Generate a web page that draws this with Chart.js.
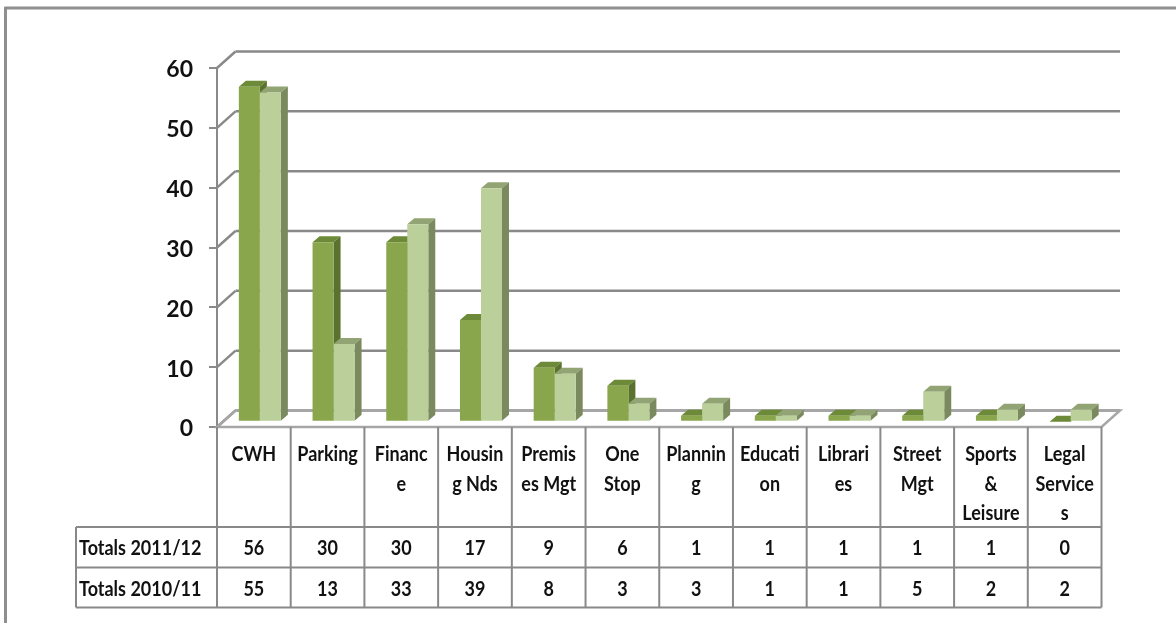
<!DOCTYPE html>
<html>
<head>
<meta charset="utf-8">
<script src="https://cdn.jsdelivr.net/npm/chart.js@4.4.1/dist/chart.umd.min.js"></script>
<style>
  body { margin: 0; background: #fff; }
  #wrap { position: relative; width: 1176px; height: 623px; overflow: hidden; }
  #chart { position: absolute; left: 0; top: 0; }
  .cell {
    position: absolute;
    font-family: Lato, "Open Sans", sans-serif;
    font-weight: bold;
    font-size: 18px;
    color: #111;
    text-align: center;
  }
  .cell span { display: block; transform: scaleY(1.18); }
</style>
</head>
<body>
<div id="wrap">
  <canvas id="chart" width="1176" height="623"></canvas>
</div>
<script>
// categories and the two yearly totals
const categories = ["CWH", "Parking", "Finance", "Housing Nds", "Premises Mgt", "One Stop",
  "Planning", "Education", "Libraries", "Street Mgt", "Sports & Leisure", "Legal Services"];
// header text as it wraps inside the table cells
const headerLines = [["CWH"], ["Parking"], ["Financ", "e"], ["Housin", "g Nds"], ["Premis", "es Mgt"],
  ["One", "Stop"], ["Plannin", "g"], ["Educati", "on"], ["Librari", "es"], ["Street", "Mgt"],
  ["Sports", "&", "Leisure"], ["Legal", "Service", "s"]];
const seriesNames = ["Totals 2011/12", "Totals 2010/11"];
const totals1112 = [56, 30, 30, 17, 9, 6, 1, 1, 1, 1, 1, 0];
const totals1011 = [55, 13, 33, 39, 8, 3, 3, 1, 1, 5, 2, 2];
const yMax = 60;
const yStep = 10;

const lineColor = "#898989";
const frontColors = ["#8aa64d", "#bbcf9a"];
const topColors = ["#6c8a37", "#92a474"];
const sideColors = ["#5a722d", "#7a8a5e"];

const wallShift = { x: 18.5, y: -16.5 };  // front plane -> back wall
const barShift = { x: 6, y: -5.3 };       // front plane -> front face of bars
const barDepth = { x: 7, y: -6 };

const tableLeft = 76;
const headerBottom = 527;
const rowBottoms = [567.5, 607.5];

function line(ctx, x1, y1, x2, y2) {
  ctx.beginPath();
  ctx.moveTo(x1, y1);
  ctx.lineTo(x2, y2);
  ctx.stroke();
}

function poly(ctx, pts, color) {
  ctx.fillStyle = color;
  ctx.beginPath();
  pts.forEach(([x, y], k) => (k ? ctx.lineTo(x, y) : ctx.moveTo(x, y)));
  ctx.closePath();
  ctx.fill();
}

const box3d = {
  id: "box3d",
  beforeDraw(chart) {
    const ctx = chart.ctx;
    ctx.save();
    ctx.strokeStyle = "#8f8f8f";
    ctx.lineWidth = 3;
    line(ctx, 4.5, 8, 1176, 8);
    line(ctx, 5.5, 7, 5.5, 623);
    ctx.restore();
  },
  beforeDatasetsDraw(chart) {
    const ctx = chart.ctx;
    const a = chart.chartArea;
    const ys = chart.scales.y;
    ctx.save();
    ctx.strokeStyle = lineColor;
    ctx.lineWidth = 2.5;
    // back wall grid and the side wall diagonals
    for (let v = 0; v <= yMax; v += yStep) {
      const y = ys.getPixelForValue(v);
      line(ctx, a.left + wallShift.x, y + wallShift.y, a.right + wallShift.x, y + wallShift.y);
      line(ctx, a.left, y, a.left + wallShift.x, y + wallShift.y);
    }
    // floor
    const y0 = ys.getPixelForValue(0);
    ctx.strokeStyle = "#a6a6a6";
    ctx.beginPath();
    ctx.moveTo(a.left, y0);
    ctx.lineTo(a.right, y0);
    ctx.lineTo(a.right + wallShift.x, y0 + wallShift.y);
    ctx.lineTo(a.left + wallShift.x, y0 + wallShift.y);
    ctx.closePath();
    ctx.stroke();

    // top and side faces go down first, the front faces then cover them
    ctx.translate(barShift.x, barShift.y);
    chart.data.datasets.forEach((ds, i) => {
      chart.getDatasetMeta(i).data.forEach(bar => {
        const l = bar.x - bar.width / 2;
        const r = bar.x + bar.width / 2;
        const t = bar.y;
        const b = bar.base;
        poly(ctx, [[l, t], [r, t], [r + barDepth.x, t + barDepth.y], [l + barDepth.x, t + barDepth.y]], topColors[i]);
        poly(ctx, [[r, t], [r + barDepth.x, t + barDepth.y], [r + barDepth.x, b + barDepth.y], [r, b]], sideColors[i]);
      });
    });
    ctx.restore();
  },
  beforeDatasetDraw(chart) {
    chart.ctx.save();
    chart.ctx.translate(barShift.x, barShift.y);
  },
  afterDatasetDraw(chart) {
    chart.ctx.restore();
  },
  afterDraw(chart) {
    // data table grid under the plot
    const ctx = chart.ctx;
    const a = chart.chartArea;
    const y0 = chart.scales.y.getPixelForValue(0);
    const colW = (a.right - a.left) / categories.length;
    const bottom = rowBottoms[rowBottoms.length - 1];
    ctx.save();
    ctx.strokeStyle = lineColor;
    ctx.lineWidth = 2;
    line(ctx, tableLeft, headerBottom, a.right, headerBottom);
    rowBottoms.forEach(y => line(ctx, tableLeft, y, a.right, y));
    line(ctx, tableLeft, headerBottom, tableLeft, bottom);
    for (let k = 0; k <= categories.length; k++) {
      const x = a.left + k * colW;
      line(ctx, x, y0, x, bottom);
    }
    ctx.restore();
  }
};

const chart = new Chart(document.getElementById("chart"), {
  type: "bar",
  data: {
    labels: categories,
    datasets: [
      { label: seriesNames[0], data: totals1112, backgroundColor: frontColors[0] },
      { label: seriesNames[1], data: totals1011, backgroundColor: frontColors[1] }
    ]
  },
  options: {
    responsive: false,
    animation: false,
    layout: { padding: { left: 0, top: 68, right: 74.5, bottom: 196 } },
    datasets: { bar: { categoryPercentage: 0.57, barPercentage: 1, borderWidth: 0 } },
    plugins: { legend: { display: false }, tooltip: { enabled: false } },
    scales: {
      x: { display: false },
      y: {
        min: 0,
        max: yMax,
        afterFit(scale) { scale.width = 217; },
        ticks: {
          stepSize: yStep,
          padding: 16,
          labelOffset: 2,
          color: "#111",
          font: { family: "Lato", weight: "bold", size: 23 }
        },
        grid: { drawOnChartArea: false, drawTicks: true, tickLength: 8, color: lineColor, lineWidth: 2 },
        border: { display: true, color: lineColor, width: 2 }
      }
    }
  },
  plugins: [box3d]
});

// table text, columns follow the category scale
function addCell(lines, left, top, width, height, extra) {
  const div = document.createElement("div");
  div.className = "cell";
  lines.forEach(t => {
    const span = document.createElement("span");
    span.textContent = t;
    div.appendChild(span);
  });
  Object.assign(div.style, {
    left: left + "px", top: top + "px", width: width + "px", height: height + "px"
  }, extra);
  document.getElementById("wrap").appendChild(div);
}

const area = chart.chartArea;
const y0 = chart.scales.y.getPixelForValue(0);
const colW = (area.right - area.left) / categories.length;
headerLines.forEach((lines, k) => {
  addCell(lines, area.left + k * colW, y0, colW, headerBottom - y0,
    { lineHeight: "29.5px", paddingTop: "12px", boxSizing: "border-box" });
});
[totals1112, totals1011].forEach((values, r) => {
  const top = r === 0 ? headerBottom : rowBottoms[r - 1];
  const h = rowBottoms[r] - top;
  addCell([seriesNames[r]], tableLeft + 3, top, area.left - tableLeft - 3, h,
    { lineHeight: h + "px", textAlign: "left" });
  values.forEach((v, k) => {
    addCell([String(v)], area.left + k * colW, top, colW, h, { lineHeight: h + "px" });
  });
});
</script>
</body>
</html>
